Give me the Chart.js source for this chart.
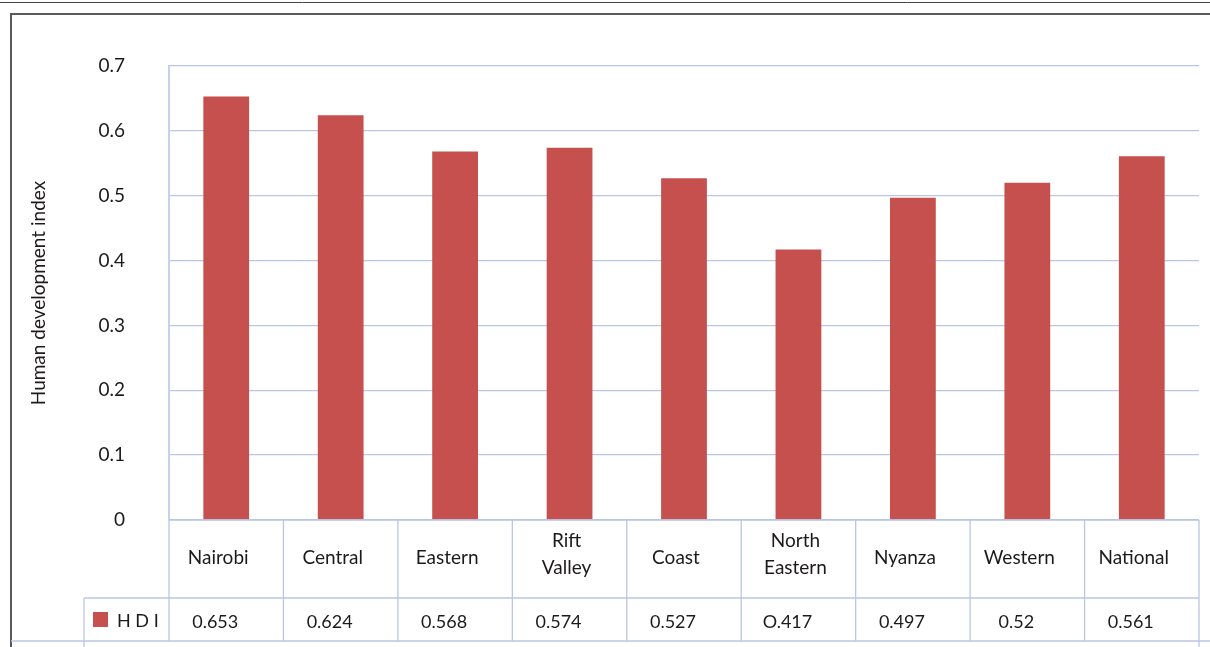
<!DOCTYPE html>
<html>
<head>
<meta charset="utf-8">
<script src="https://cdn.jsdelivr.net/npm/chart.js@4"></script>
<style>
  html, body { margin: 0; padding: 0; background: #fff; }
  #wrap { width: 1210px; height: 647px; position: relative; }
</style>
</head>
<body>
<div id="wrap"><canvas id="hdiChart" width="1210" height="647"></canvas></div>
<script>
// 数据
var categories = ['Nairobi', 'Central', 'Eastern', ['Rift', 'Valley'], 'Coast', ['North', 'Eastern'], 'Nyanza', 'Western', 'National'];
var hdiValues = [0.653, 0.624, 0.568, 0.574, 0.527, 0.417, 0.497, 0.52, 0.561];
var tableLabels = ['0.653', '0.624', '0.568', '0.574', '0.527', 'O.417', '0.497', '0.52', '0.561'];
var yTickLabels = ['0', '0.1', '0.2', '0.3', '0.4', '0.5', '0.6', '0.7'];

var FONT = 'Lato, "Open Sans", sans-serif';
var TEXT = '#1e1a1b';
var LINE = '#b9c6e5';
var BAR = '#c5504d';

// 外框
var framePlugin = {
    id: 'frame',
    beforeDraw: function(chart) {
        var c = chart.ctx;
        c.save();
        c.fillStyle = '#fff';
        c.fillRect(0, 0, chart.width, chart.height);
        c.strokeStyle = '#444';
        c.lineWidth = 1;
        c.beginPath(); c.moveTo(0, 2.5); c.lineTo(chart.width, 2.5); c.stroke();
        c.strokeStyle = '#5a5a5a';
        c.lineWidth = 2;
        c.beginPath(); c.moveTo(10, 14); c.lineTo(chart.width, 14); c.stroke();
        c.beginPath(); c.moveTo(11, 13); c.lineTo(11, chart.height); c.stroke();
        c.restore();
    }
};

// 数据表
var tablePlugin = {
    id: 'dataTable',
    afterDraw: function(chart) {
        var c = chart.ctx;
        var x = chart.scales.x;
        var top = chart.chartArea.bottom;
        var rowY = 598, botY = 641;
        var w = (x.right - x.left) / categories.length;
        c.save();
        c.strokeStyle = LINE;
        c.lineWidth = 1.3;
        c.beginPath(); c.moveTo(x.left, top); c.lineTo(x.right, top); c.stroke();
        c.beginPath(); c.moveTo(84, rowY); c.lineTo(x.right, rowY); c.stroke();
        c.beginPath(); c.moveTo(11, botY); c.lineTo(chart.width, botY); c.stroke();
        c.beginPath(); c.moveTo(84, rowY); c.lineTo(84, chart.height); c.stroke();
        for (var i = 0; i <= categories.length; i++) {
            var bx = x.getPixelForValue(Math.min(i, categories.length - 1)) + (i === categories.length ? w / 2 : -w / 2);
            c.beginPath(); c.moveTo(bx, top); c.lineTo(bx, i === categories.length ? chart.height : botY); c.stroke();
        }
        c.fillStyle = TEXT;
        c.textBaseline = 'middle';
        c.textAlign = 'center';
        for (var j = 0; j < categories.length; j++) {
            var cx = x.getPixelForValue(j);
            var lab = categories[j];
            c.font = '19px ' + FONT;
            if (Array.isArray(lab)) {
                c.fillText(lab[0], cx - 3, 541);
                c.fillText(lab[1], cx - 3, 568);
            } else {
                c.fillText(lab, cx - 8, 558);
            }
            c.font = '18px ' + FONT;
            c.fillText(tableLabels[j], cx - 11, 622);
        }
        // 图例
        c.fillStyle = BAR;
        c.fillRect(93, 612, 15, 15);
        c.fillStyle = TEXT;
        c.textAlign = 'left';
        c.font = '18px ' + FONT;
        c.fillText('H D I', 117, 621);
        c.restore();
    }
};

var ctx = document.getElementById('hdiChart').getContext('2d');
var hdiChart = new Chart(ctx, {
    type: 'bar',
    data: {
        labels: categories,
        datasets: [{
            label: 'HDI',
            data: hdiValues,
            backgroundColor: BAR,
            borderWidth: 0,
            categoryPercentage: 1,
            barPercentage: 0.4
        }]
    },
    options: {
        responsive: false,
        animation: false,
        layout: { padding: { top: 66, right: 11, bottom: 127, left: 0 } },
        plugins: {
            legend: { display: false },
            tooltip: { enabled: false }
        },
        scales: {
            x: { display: false },
            y: {
                min: 0,
                max: 0.7,
                afterFit: function(scale) { scale.width = 169; },
                ticks: {
                    stepSize: 0.1,
                    padding: 44,
                    color: TEXT,
                    font: { family: FONT, size: 19 },
                    callback: function(v, i) { return yTickLabels[i]; }
                },
                grid: { color: LINE, lineWidth: 1.3, drawTicks: false },
                border: { display: true, color: '#c6d1ec', width: 2 },
                title: {
                    display: true,
                    text: 'Human development index',
                    color: TEXT,
                    font: { family: FONT, size: 19 },
                    padding: { top: 27, bottom: 0 }
                }
            }
        }
    },
    plugins: [framePlugin, tablePlugin]
});
</script>
</body>
</html>
